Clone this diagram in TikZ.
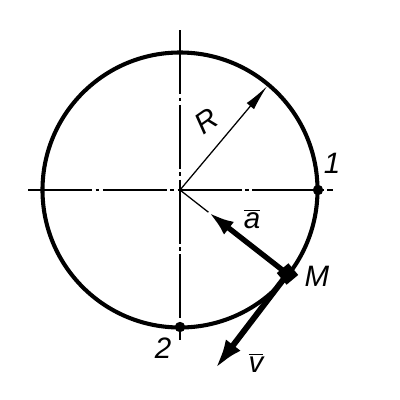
\documentclass[tikz,border=0pt]{standalone}
\usepackage{fontspec}
\setmainfont{Liberation Sans}
\usetikzlibrary{arrows.meta}
\begin{document}
\begin{tikzpicture}[x=0.25mm,y=-0.25mm,
  axisline/.style={line width=0.9pt,dash pattern=on 16mm off 0.9mm on 0.9mm off 0.9mm},
  rim/.style={line width=2.9pt},
  dotpt/.style={circle,fill=black,inner sep=0pt,minimum size=2.6mm},
  lbl/.style={font=\fontsize{21}{24}\selectfont\itshape,inner sep=1pt},
  thinvec/.style={line width=0.9pt,-{Latex[length=6.5mm,width=2.4mm]}},
  thickvec/.style={line width=3.8pt,-{Latex[length=6.5mm,width=4mm]}},
  ]
\useasboundingbox (0,0) rectangle (400,400);
\coordinate (O) at (180,190);
\coordinate (Ltop) at (180,30);
\coordinate (Lbot) at (180,340);
\coordinate (Lleft) at (28,190);
\coordinate (Lright) at (333,190);
\coordinate (Rtip) at (267.1,86.2);
\coordinate (Atip) at (208.4,212.2);
\coordinate (Vtip) at (215,369);
% axes
\draw[axisline] (Ltop) -- (Lbot);
\draw[axisline] (Lleft) -- (Lright);
% circle
\draw[rim] (O) circle (137.5);
% radius
\draw[thinvec] (O) -- (Rtip);
\node[lbl,rotate=35] (lR) at (206,121) {R};
% points
\node[dotpt] (P1) at (318,190) {};
\node[dotpt] (P2) at (180,327) {};
\node[lbl] (l1) at (332,163) {1};
\node[lbl] (l2) at (163,348) {2};
% M
\draw[line width=0.9pt] (O) -- (Atip);
\node[fill=black,rotate=40,inner sep=0pt,minimum size=3.8mm] (M) at (287.5,274) {};
\node[lbl] (lM) at (317,276) {M};
\draw[thickvec] (M.center) -- (Atip);
\draw[thickvec,line width=4.2pt,-{Latex[length=7.5mm,width=4.6mm]}] (M.center) -- (Vtip);
\node[lbl] (la) at (252,219) {$\overline{\mbox{\itshape a}}$};
\node[lbl] (lv) at (256,363) {$\overline{\mbox{\itshape v}}$};
\end{tikzpicture}
\end{document}
